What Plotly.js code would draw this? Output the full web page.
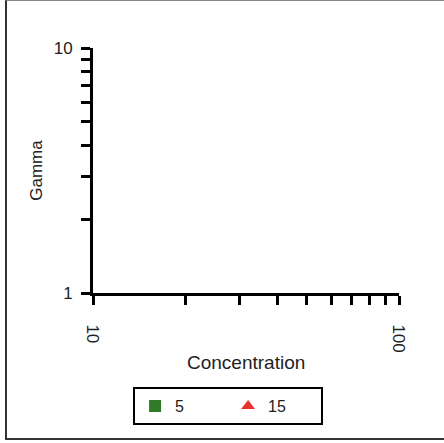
<!DOCTYPE html>
<html>
<head>
<meta charset="utf-8">
<script src="https://cdn.plot.ly/plotly-3.0.1.min.js"></script>
<style>
  body { margin: 0; background: white; }
  #chart { width: 444px; height: 443px; }
  #frame {
    position: absolute; left: 5px; top: 0px; width: 460px; height: 437px;
    border-left: 2px solid #333; border-bottom: 2px solid #333; border-top: 1px solid #888;
    pointer-events: none;
  }
</style>
</head>
<body>
<div id="chart"></div>
<div id="frame"></div>
<script>
// series (no points plotted in the reference, only legend entries)
var seriesNames = ['5', '15']
var seriesX = [[null], [null]]
var seriesY = [[null], [null]]

// ticks
var xTickVals = [10, 20, 30, 40, 50, 60, 70, 80, 90, 100]
var xTickText = ['10', '', '', '', '', '', '', '', '', '100']
var yTickVals = [1, 2, 3, 4, 5, 6, 7, 8, 9, 10]
var yTickText = ['1', '', '', '', '', '', '', '', '', '10']

var markers = [
    {symbol: 'square', color: '#2e7a27', size: 12},
    {symbol: 'triangle-up', color: '#e8322a', size: 12},
]

var traces = []
for (var i = 0; i < seriesNames.length; i++) {
    traces.push({
        x: seriesX[i],
        y: seriesY[i],
        name: seriesNames[i],
        type: 'scatter',
        mode: 'markers',
        marker: markers[i],
    })
}

var FONT = 'Liberation Sans, Arial, sans-serif'
var tickFont = {family: FONT, size: 17, color: '#222'}

var layout = {
    width: 444,
    height: 443,
    margin: {l: 93, r: 45, t: 48, b: 150},
    paper_bgcolor: 'white',
    plot_bgcolor: 'white',
    showlegend: true,
    xaxis: {
        type: 'log',
        range: [1, 2],
        tickmode: 'array',
        tickvals: xTickVals,
        ticktext: xTickText,
        tickangle: 90,
        ticks: 'outside',
        ticklen: 9,
        tickwidth: 3,
        tickcolor: 'black',
        ticklabelstandoff: 16,
        showline: true,
        linewidth: 3,
        linecolor: 'black',
        showgrid: false,
        zeroline: false,
        tickfont: tickFont,
    },
    yaxis: {
        type: 'log',
        range: [0, 1],
        tickmode: 'array',
        tickvals: yTickVals,
        ticktext: yTickText,
        ticks: 'outside',
        ticklen: 9,
        tickwidth: 3,
        tickcolor: 'black',
        ticklabelstandoff: 5,
        showline: true,
        linewidth: 3,
        linecolor: 'black',
        showgrid: false,
        zeroline: false,
        tickfont: tickFont,
        title: {text: 'Gamma', font: {family: FONT, size: 17, color: '#222'}, standoff: 7},
    },
    annotations: [{
        text: 'Concentration',
        xref: 'paper', yref: 'paper',
        x: 0.5, y: -0.282,
        xanchor: 'center', yanchor: 'middle',
        showarrow: false,
        font: {family: FONT, size: 19, color: '#222'},
    }],
    legend: {
        orientation: 'h',
        x: 0.131,
        xanchor: 'left',
        y: -0.384,
        yanchor: 'top',
        bordercolor: 'black',
        borderwidth: 2,
        entrywidth: 48,
        font: {family: FONT, size: 16, color: '#222'},
    },
}

Plotly.newPlot('chart', traces, layout, {displayModeBar: false, staticPlot: true})
</script>
</body>
</html>
